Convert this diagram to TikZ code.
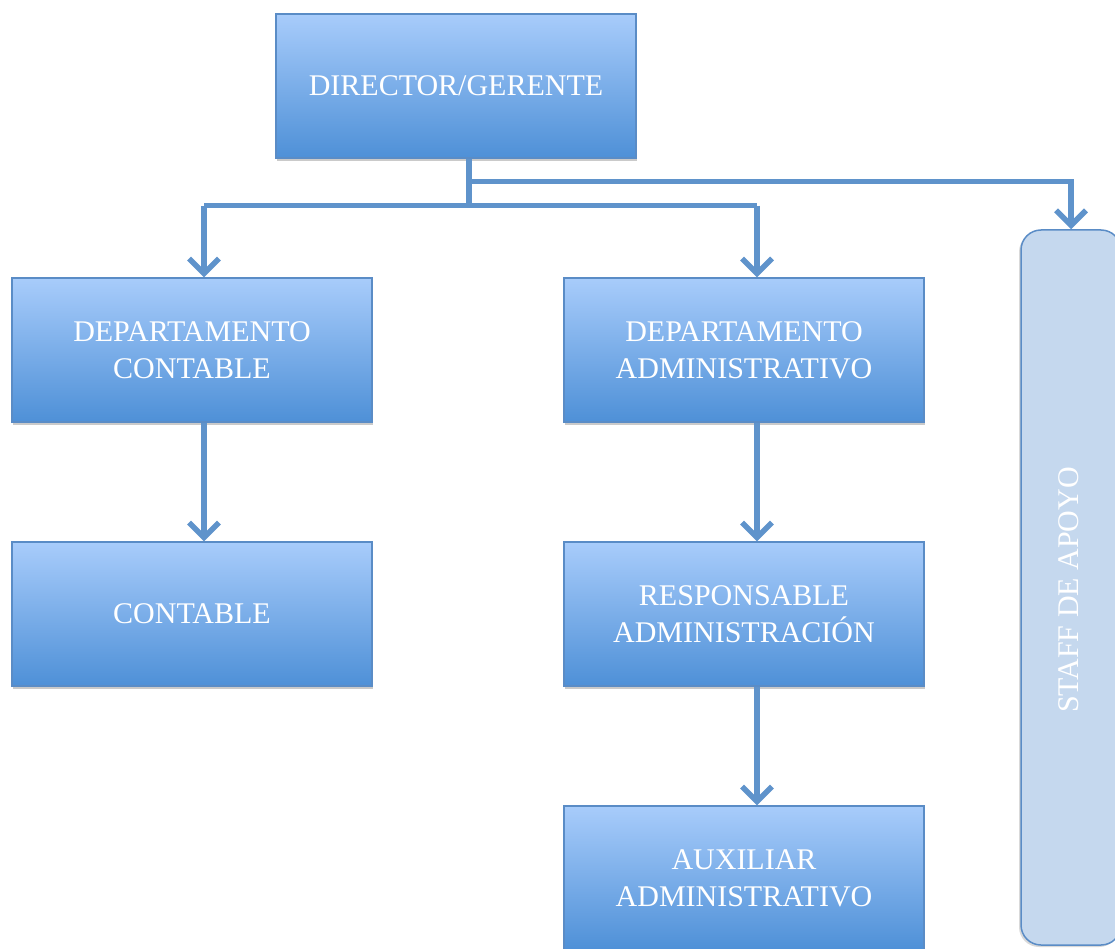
\documentclass[tikz,border=0pt]{standalone}
\usepackage{fontspec}
\setmainfont{Liberation Serif}
\usetikzlibrary{arrows.meta,shadows,calc}
\definecolor{boxtop}{HTML}{A8CCFB}
\definecolor{boxbot}{HTML}{4E90D7}
\definecolor{boxline}{HTML}{5A8CC6}
\definecolor{link}{HTML}{5F93CB}
\definecolor{stafffill}{HTML}{C5D8EE}
\begin{document}
\begin{tikzpicture}[x=1pt,y=-1pt,
  unit/.style={rectangle, draw=boxline, line width=1.2pt,
    top color=boxtop, bottom color=boxbot,
    minimum width=360pt, minimum height=144pt, inner sep=0pt,
    text=white, align=center,
    font=\fontsize{30}{37}\selectfont,
    drop shadow={shadow xshift=1pt, shadow yshift=-3pt, opacity=0.35, fill=black!60}},
  link/.style={draw=link, line width=5.5pt},
  tip/.style={link, -{Straight Barb[length=15pt, width=30pt, line width=5.5pt]}}]
\useasboundingbox (0,0) rectangle (1115,949);

% staff column on the right, running past the page edge
\node[draw=boxline, line width=1.5pt, fill=stafffill, rounded corners=20pt,
  minimum width=100pt, minimum height=715pt, inner sep=0pt,
  drop shadow={shadow xshift=-2pt, shadow yshift=-2pt, opacity=0.25, fill=black!60}]
  (staff) at (1071,587.5) {};
\node[rotate=90, text=white, font=\fontsize{30}{37}\selectfont] (stafftxt) at (1069,590) {STAFF DE APOYO};

\node[unit] (dir)  at (456,86)  {DIRECTOR/GERENTE};
\node[unit] (dc)   at (192,350) {DEPARTAMENTO\\CONTABLE};
\node[unit] (con)  at (192,614) {CONTABLE};
\node[unit] (da)   at (744,350) {DEPARTAMENTO\\ADMINISTRATIVO};
\node[unit] (resp) at (744,614) {RESPONSABLE\\ADMINISTRACIÓN};
\node[unit] (aux)  at (744,878) {AUXILIAR\\ADMINISTRATIVO};

% branch points below the director
\coordinate (d0) at ($(dir.south)+(13,0)$);
\coordinate (bus) at ($(d0)+(0,47)$);
\coordinate (staffbus) at ($(d0)+(0,23)$);
\coordinate (lc) at ($(dc.north)+(12,0)$);
\coordinate (rc) at ($(da.north)+(13,0)$);

\draw[link] (d0) -- (bus);
\draw[link] (lc |- bus) -- (rc |- bus);
\draw[tip] (lc |- bus) -- (lc);
\draw[tip] (rc |- bus) -- (rc);
\draw[tip] (staffbus) -| (staff.north);

\draw[tip] ($(dc.south)+(12,0)$) -- ($(con.north)+(12,0)$);
\draw[tip] ($(da.south)+(13,0)$) -- ($(resp.north)+(13,0)$);
\draw[tip] ($(resp.south)+(13,0)$) -- ($(aux.north)+(13,0)$);
\end{tikzpicture}
\end{document}
